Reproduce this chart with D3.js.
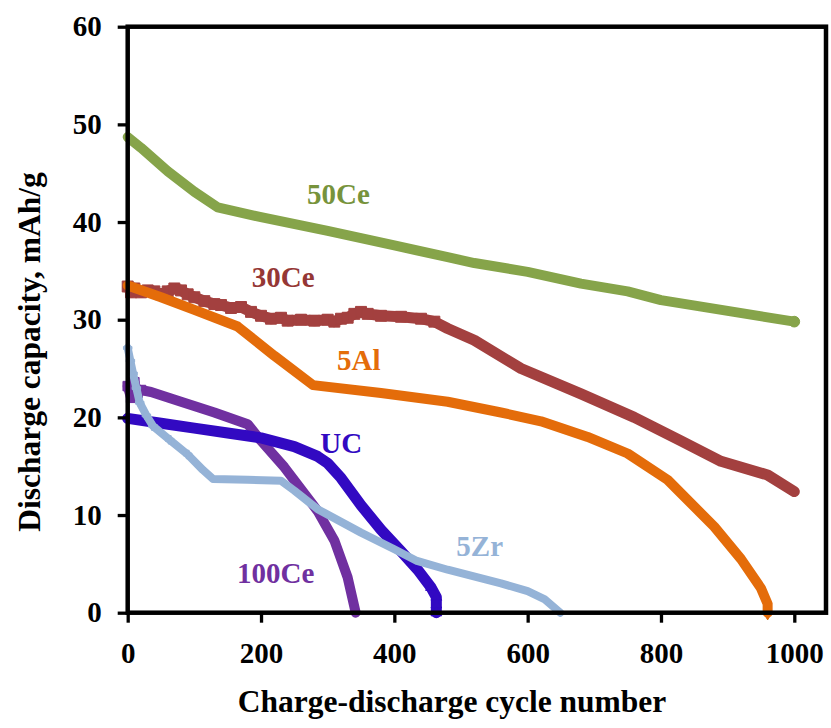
<!DOCTYPE html>
<html>
<head>
<meta charset="utf-8">
<script src="https://cdn.jsdelivr.net/npm/d3@7"></script>
<style>
  html, body { margin: 0; padding: 0; background: #fff; }
  svg text { font-family: "Liberation Serif", "Times New Roman", serif; font-weight: bold; }
</style>
</head>
<body>
<svg id="chart" width="831" height="728"></svg>
<script>
// Discharge capacity (mAh/g) versus charge-discharge cycle number
const xTicks = [0, 200, 400, 600, 800, 1000];
const yTicks = [0, 10, 20, 30, 40, 50, 60];

const cycles50Ce = [0, 20, 60, 100, 135, 200, 300, 400, 480, 520, 600, 680, 750, 800, 900, 1000];
const cap50Ce    = [48.7, 47.6, 45.2, 43.1, 41.5, 40.5, 39.1, 37.6, 36.4, 35.8, 34.9, 33.7, 32.9, 32.0, 30.9, 29.8];

const cycles30Ce = [0, 5, 10, 20, 30, 40, 50, 60, 70, 80, 90, 100, 115, 130, 140, 155, 170, 185, 200, 215, 230, 240, 260, 280, 300, 310, 320, 330, 340, 350, 360, 380, 410, 440, 460, 480, 520, 590, 680, 760, 830, 890, 960, 1000];
const cap30Ce    = [33.4, 32.8, 33.2, 32.8, 33.0, 32.9, 32.6, 32.9, 33.2, 33.0, 32.6, 32.3, 31.9, 31.6, 31.5, 31.2, 31.3, 30.8, 30.4, 30.1, 30.2, 29.9, 30.0, 29.9, 30.0, 29.8, 30.1, 30.2, 30.6, 30.8, 30.6, 30.4, 30.3, 30.1, 29.8, 29.1, 27.9, 25.0, 22.4, 20.0, 17.6, 15.5, 14.1, 12.4];

const cycles5Al = [0, 50, 100, 165, 220, 278, 380, 480, 560, 620, 690, 750, 810, 880, 920, 950, 960, 960];
const cap5Al    = [33.5, 32.3, 31.0, 29.3, 26.3, 23.3, 22.5, 21.6, 20.5, 19.6, 18.0, 16.3, 13.6, 8.8, 5.5, 2.5, 0.9, 0.0];

const cyclesUC = [0, 50, 100, 150, 200, 250, 285, 300, 320, 350, 380, 410, 435, 455, 463, 463, 463];
const capUC    = [19.9, 19.4, 18.9, 18.4, 17.9, 17.0, 16.0, 15.3, 13.8, 11.0, 8.5, 6.3, 4.4, 2.6, 1.6, 0.8, 0.0];

const cycles100Ce = [0, 5, 10, 15, 20, 35, 80, 130, 180, 200, 235, 285, 310, 330, 342];
const cap100Ce    = [23.2, 22.0, 23.6, 22.5, 22.8, 22.6, 21.6, 20.5, 19.3, 17.6, 14.9, 10.4, 7.4, 3.6, 0.0];

const cycles5Zr = [0, 4, 8, 13, 18, 28, 38, 63, 90, 113, 128, 180, 230, 250, 285, 350, 400, 434, 480, 560, 600, 625, 649];
const cap5Zr    = [27.1, 25.8, 24.5, 23.0, 21.5, 20.2, 19.1, 17.7, 16.2, 14.6, 13.7, 13.6, 13.5, 12.5, 10.6, 8.2, 6.5, 5.3, 4.4, 3.0, 2.2, 1.4, 0.0];

const seriesNames  = ["30Ce", "5Al", "50Ce", "100Ce", "UC", "5Zr"];
const seriesColors = ["#A3403F", "#E46C0A", "#86A44A", "#7030A0", "#3209C2", "#95B3D7"];
const labelColors  = ["#953735", "#E46C0A", "#77933C", "#7030A0", "#3209C2", "#95B3D7"];
const lineWidths   = [11, 10, 10, 10, 11, 8];
const markerShapes = [d3.symbolSquare, d3.symbolDiamond, d3.symbolCircle, d3.symbolSquare, d3.symbolTriangle, d3.symbolCross];
const markerSizes  = [120, 60, 90, 90, 50, 40];
// index range [first, last] of the points drawn with a visible marker
const markerSpan   = [[0, 34], [16, 17], [15, 15], [0, 4], [13, 16], [0, 8]];
const seriesX = [cycles30Ce, cycles5Al, cycles50Ce, cycles100Ce, cyclesUC, cycles5Zr];
const seriesY = [cap30Ce, cap5Al, cap50Ce, cap100Ce, capUC, cap5Zr];
// where each in-chart name sits, in data units (cycle, capacity)
const labelAt = [[186, 33.3], [314, 24.9], [269, 41.8], [164, 3.0], [289, 16.4], [493, 5.8]];

const svg = d3.select("#chart");
const plotLeft = 127.7, plotRight = 826, plotTop = 26.7, plotBottom = 612.7;

const x = d3.scaleLinear().domain([0, 1000]).range([plotLeft, 794.3]);
const y = d3.scaleLinear().domain([0, 60]).range([plotBottom, plotTop]);

svg.append("rect").attr("width", 831).attr("height", 728).attr("fill", "#fff");

// series
const line = d3.line().x(d => x(d[0])).y(d => y(d[1])).curve(d3.curveLinear);
seriesNames.forEach((name, i) => {
  const pts = seriesX[i].map((c, j) => [c, seriesY[i][j]]);
  const g = svg.append("g").attr("class", "series");
  g.append("path")
    .attr("d", line(pts))
    .attr("fill", "none")
    .attr("stroke", seriesColors[i])
    .attr("stroke-width", lineWidths[i])
    .attr("stroke-linejoin", "round")
    .attr("stroke-linecap", "round");
  const [m0, m1] = markerSpan[i];
  g.selectAll("path.mk")
    .data(pts.slice(m0, m1 + 1))
    .join("path")
    .attr("class", "mk")
    .attr("transform", d => `translate(${x(d[0])},${y(d[1])})`)
    .attr("d", d3.symbol().type(markerShapes[i]).size(markerSizes[i]))
    .attr("fill", seriesColors[i])
    .attr("stroke", seriesColors[i])
    .attr("stroke-width", 1);
});

// plot frame
svg.append("rect")
  .attr("x", plotLeft).attr("y", plotTop)
  .attr("width", plotRight - plotLeft).attr("height", plotBottom - plotTop)
  .attr("fill", "none").attr("stroke", "#000").attr("stroke-width", 4.5);

// axes
const xAxis = d3.axisBottom(x).tickValues(xTicks).tickSize(10).tickPadding(20).tickFormat(d3.format("d"));
const yAxis = d3.axisLeft(y).tickValues(yTicks).tickSize(10).tickPadding(16).tickFormat(d3.format("d"));

const gx = svg.append("g").attr("transform", `translate(0,${plotBottom})`).call(xAxis);
const gy = svg.append("g").attr("transform", `translate(${plotLeft},0)`).call(yAxis);
[gx, gy].forEach(g => {
  g.select(".domain").remove();
  g.selectAll(".tick line").attr("stroke", "#000").attr("stroke-width", 3.3);
  g.selectAll(".tick text").attr("fill", "#000").style("font-size", "29px")
    .style("font-family", "'Liberation Serif', 'Times New Roman', serif").style("font-weight", "bold");
});

// in-chart series names
seriesNames.forEach((name, i) => {
  svg.append("text")
    .attr("x", x(labelAt[i][0]))
    .attr("y", y(labelAt[i][1]))
    .attr("fill", labelColors[i])
    .style("font-size", "29px")
    .text(name);
});

// axis titles
svg.append("text")
  .attr("x", 452).attr("y", 712)
  .attr("text-anchor", "middle")
  .style("font-size", "31.5px")
  .text("Charge-discharge cycle number");

svg.append("text")
  .attr("transform", "translate(40,352) rotate(-90)")
  .attr("text-anchor", "middle")
  .style("font-size", "31.5px")
  .text("Discharge capacity, mAh/g");
</script>
</body>
</html>
